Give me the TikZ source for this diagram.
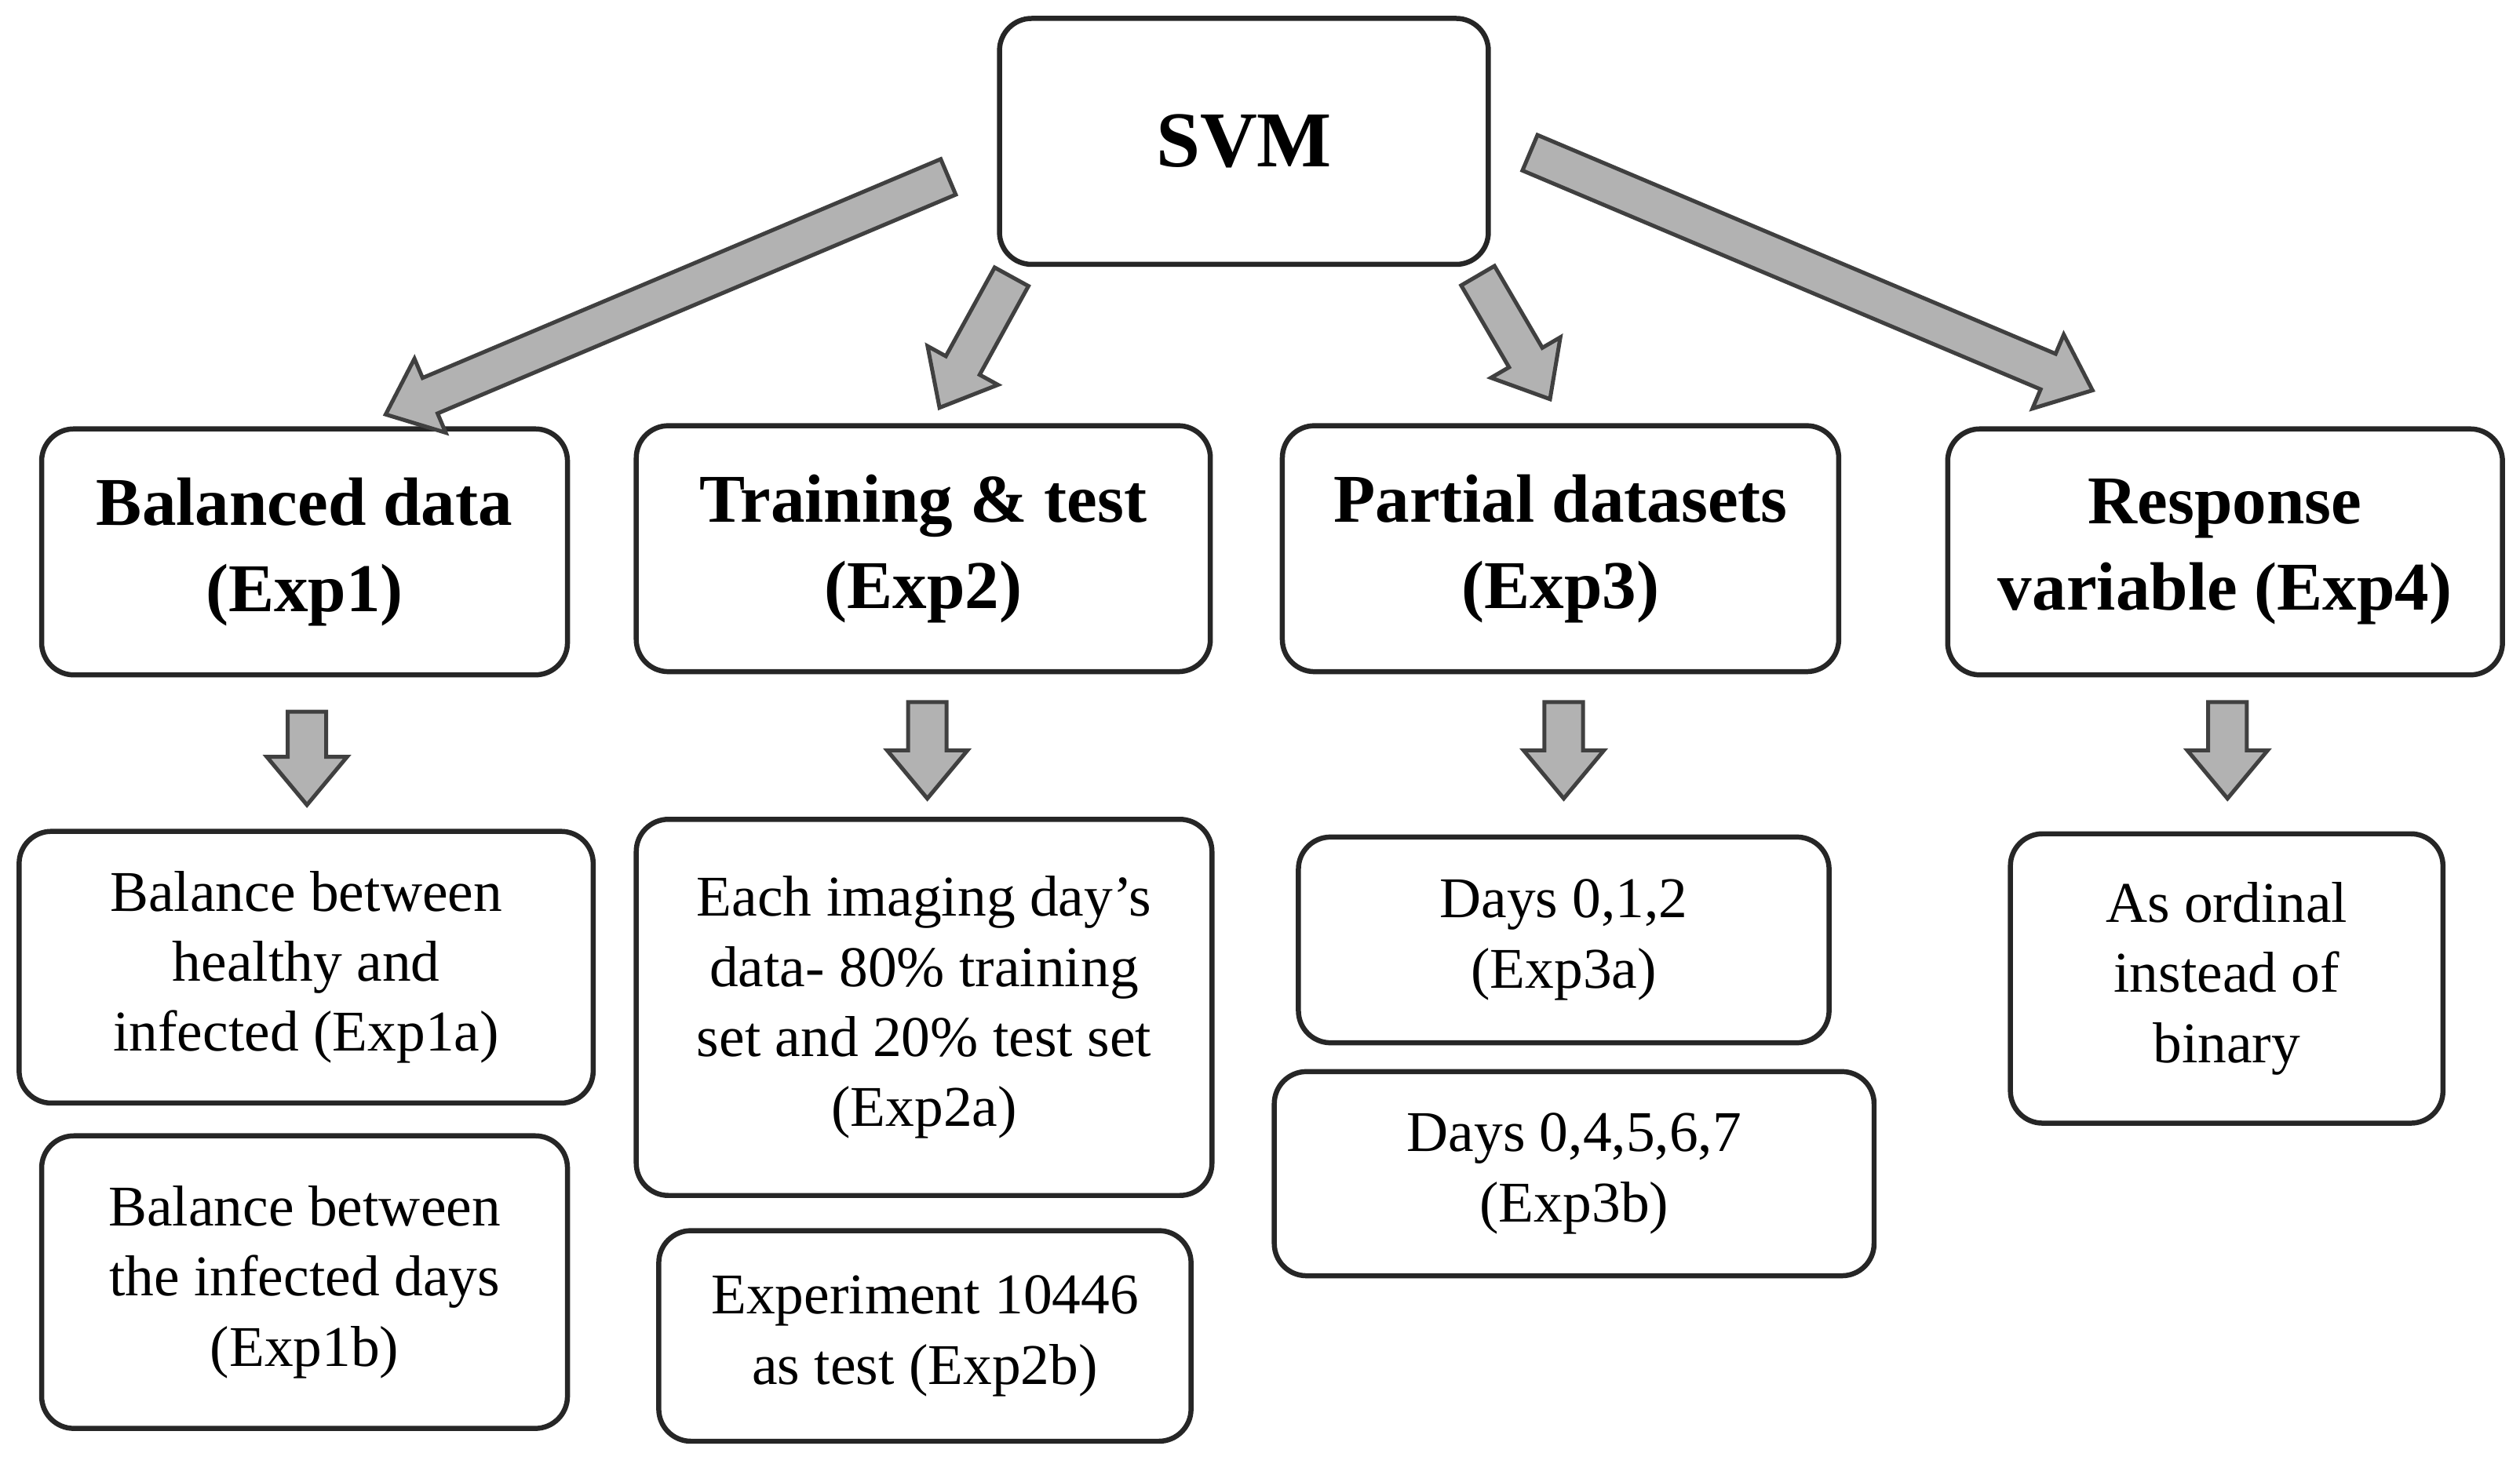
\documentclass[tikz,border=0pt]{standalone}
\usepackage{fontspec}
\setmainfont{Liberation Serif}
\newcommand\myblockarrow[5]{% name, x, y, angle, length
 \begin{scope}[shift={(#2,#3)},rotate=#4]
 \draw[barrow] (-#5/2,-12) -- ({#5/2-30},-12) -- ({#5/2-30},-25) -- (#5/2,0) -- ({#5/2-30},25) -- ({#5/2-30},12) -- (-#5/2,12) -- cycle;
 \coordinate (#1) at (0,0);
 \end{scope}}
\begin{document}
\begin{tikzpicture}[x=0.01cm,y=-0.01cm,
 box/.style={draw=black!85,line width=0.9pt,rounded corners=0.2cm,align=center,inner sep=0pt},
 title/.style={box,font=\fontsize{12.1pt}{15.3pt}\selectfont\bfseries},
 sub/.style={box,font=\fontsize{10.2pt}{12.4pt}\selectfont},
 barrow/.style={draw=black!75,fill=black!30,line width=0.7pt,line join=miter}]
\useasboundingbox (0,0) rectangle (1568,911);
\node[box,minimum width=3.04cm,minimum height=1.53cm,font=\fontsize{14pt}{16pt}\selectfont\bfseries] (svm) at (774,88) {SVM};
\node[title,minimum width=3.27cm,minimum height=1.53cm] (b1) at (189.5,343.5) {Balanced data\\(Exp1)};
\node[title,minimum width=3.57cm,minimum height=1.53cm] (b2) at (574.5,341.5) {Training \& test\\(Exp2)};
\node[title,minimum width=3.46cm,minimum height=1.53cm] (b3) at (971,341.5) {Partial datasets\\(Exp3)};
\node[title,minimum width=3.45cm,minimum height=1.53cm] (b4) at (1384.5,343.5) {Response\\variable (Exp4)};
\node[sub,minimum width=3.57cm,minimum height=1.69cm] (s1a) at (190.5,602) {Balance between\\healthy and\\infected (Exp1a)};
\node[sub,minimum width=3.27cm,minimum height=1.82cm] (s1b) at (189.5,798) {Balance between\\the infected days\\(Exp1b)};
\node[sub,minimum width=3.58cm,minimum height=2.34cm] (s2a) at (575,627) {Each imaging day's\\data- 80\% training\\set and 20\% test set\\(Exp2a)};
\node[sub,minimum width=3.31cm,minimum height=1.31cm] (s2b) at (575.5,831.5) {Experiment 10446\\as test (Exp2b)};
\node[sub,minimum width=3.30cm,minimum height=1.28cm] (s3a) at (973,585) {Days 0,1,2\\(Exp3a)};
\node[sub,minimum width=3.73cm,minimum height=1.27cm] (s3b) at (979.5,730.5) {Days 0,4,5,6,7\\(Exp3b)};
\node[sub,minimum width=2.69cm,minimum height=1.80cm] (s4a) at (1385.5,609) {As ordinal\\instead of\\binary};
\myblockarrow{a1}{415}{184}{202.9}{380}
\myblockarrow{a2}{607}{213}{241.2}{93}
\myblockarrow{a3}{942}{210}{-59.7}{89}
\myblockarrow{a4}{1127}{169}{-22.9}{380}
\myblockarrow{d1}{191}{472}{-90}{58}
\myblockarrow{d2}{577}{467}{-90}{60}
\myblockarrow{d3}{973}{467}{-90}{60}
\myblockarrow{d4}{1386}{467}{-90}{60}
\end{tikzpicture}
\end{document}
